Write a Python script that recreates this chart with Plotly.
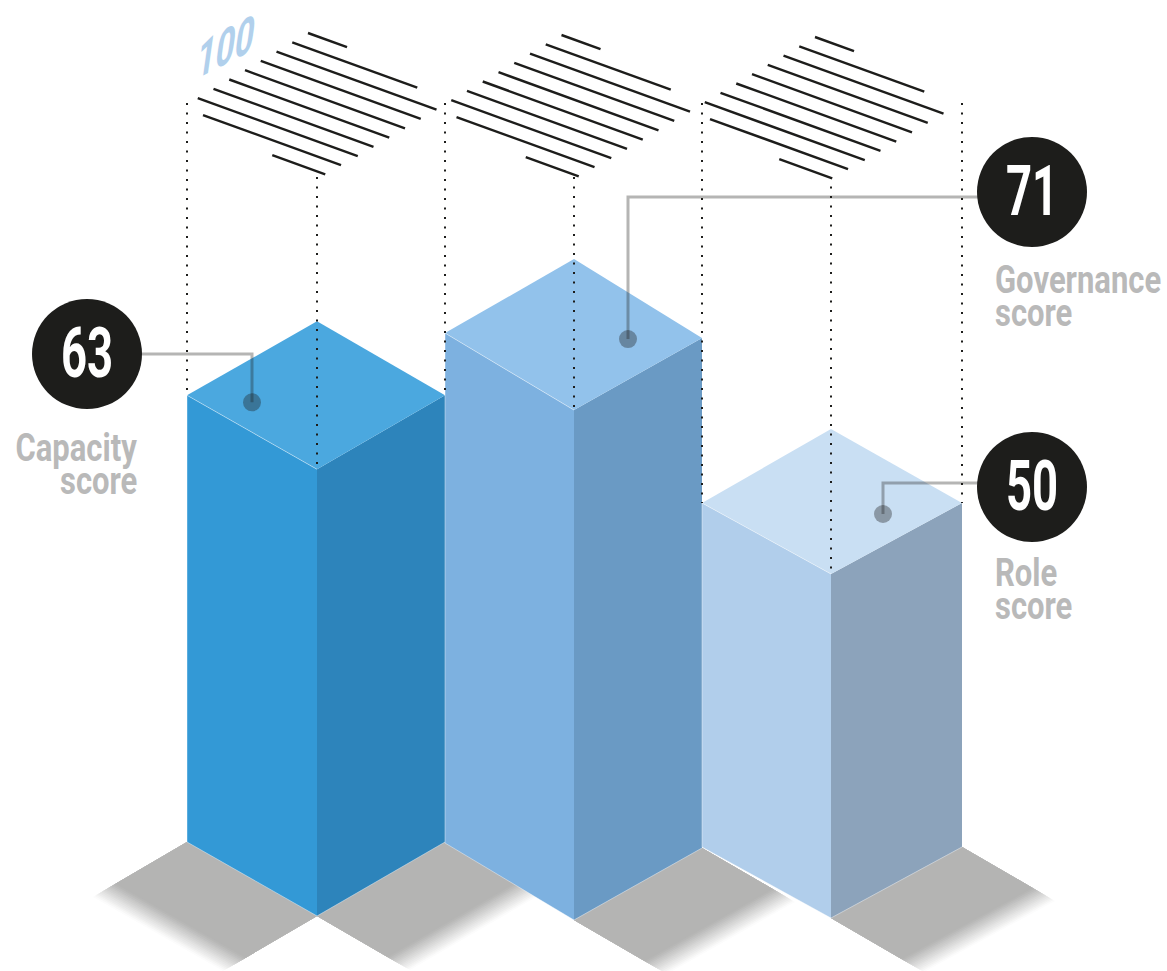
import json
import plotly.graph_objects as go

# ---- data ----
SCORE_NAMES = ["Capacity score", "Governance score", "Role score"]
SCORES = [63, 71, 50]
SCALE_MAX = 100
SCALE_LABEL = "100"

# ---- isometric layout (canvas pixels) ----
W, H = 1167, 971
PX_PER_POINT = 7.9
PX_OFFSET = -51
CENTER_X = [317, 574, 831]
LEFT_X = [187, 445, 702]
RIGHT_X = [445, 702, 962]
BASE_LEFT_Y = [842, 843, 847]
BASE_FRONT_Y = [916, 920, 918]
BASE_RIGHT_Y = [842, 848, 847]
TOP_DEPTH = 74

FACE_LEFT = ["#3399d6", "#7db1e0", "#b1ceeb"]
FACE_RIGHT = ["#2d84bb", "#6a9ac4", "#8ca3bb"]
FACE_TOP = ["#4ba8df", "#92c2eb", "#c9dff3"]
INK = "#1d1d1b"
SHADOW_RGB = (180, 180, 179)
LABEL_GREY = "#b9b9b9"
CALLOUT = "rgba(29,29,27,0.33)"
DOT_COLOR = "rgba(29,29,27,0.36)"
SEAM = "rgba(255,255,255,0.4)"
FONT = "Roboto"

BADGE_X = [87, 1032, 1032]
BADGE_Y = [354, 192, 487]
BADGE_SIZE = 110
ELBOW_Y = [354, 197, 483]
DOT_DX = [65, 183, 181]
DOT_DY = [7, 6, 11]
LABEL_LINES = [["Capacity", "score"], ["Governance", "score"], ["Role", "score"]]
LABEL_X = [138, 994, 994]
LABEL_ANCHOR = ["right", "left", "left"]
LABEL_Y = [[448, 481], [280, 313], [573, 606]]

BADGE_FONT = 70
LABEL_FONT = 39
SCALE_FONT = 44
# horizontal squeeze per font size, giving Roboto a condensed cut
TEXT_SQUEEZE = {BADGE_FONT: 0.65, LABEL_FONT: 0.795, SCALE_FONT: 0.85}
SCALE_SHEAR = -35
BADGE_TEXT_DROP = 6

# Hatched caps above the bars: ten parallel strokes, clipped to a hexagon
HATCH_X0 = 308
HATCH_STEP_X = 253.5
HATCH_STEP_Y = 2
HATCH_DX, HATCH_DY = -15.75, 9.3
HATCH_SLOPE = 0.363
HATCH_SPANS = [(0, 39), (0, 125), (0, 160), (0, 160), (0, 160),
               (0, 160), (0, 160), (0, 160), (21, 159), (106, 159)]
CAP_TOP_OFFSET = 70
LEFT_SHADOW_VEC = (-94, 55)
RIGHT_SHADOW_VEC = (93, 54)
SHADOW_SOLID = 0.76
SHADOW_STEPS = 14
DOTTED = "2px,7.5px"


def height(value):
    return PX_PER_POINT * value + PX_OFFSET


fig = go.Figure()


def polygon(points, color, name=""):
    xs = [p[0] for p in points] + [points[0][0]]
    ys = [p[1] for p in points] + [points[0][1]]
    fig.add_trace(go.Scatter(
        x=xs, y=ys, mode="lines", fill="toself", fillcolor=color,
        line=dict(color=color, width=0),
        hoverinfo="skip", name=name, showlegend=False))


def polyline(xs, ys, color, width, dash=None, name=""):
    fig.add_trace(go.Scatter(
        x=xs, y=ys, mode="lines",
        line=dict(color=color, width=width, dash=dash),
        hoverinfo="skip", name=name, showlegend=False))


def shadow(a, b, vec):
    """Floor shadow swept from edge a-b along vec, fading at its far end."""
    def at(p, t):
        return (p[0] + vec[0] * t, p[1] + vec[1] * t)
    step = (1 - SHADOW_SOLID) / SHADOW_STEPS
    # painted far to near; every band starts at the edge, so later ones hide the seams
    for k in reversed(range(SHADOW_STEPS)):
        t1 = SHADOW_SOLID + step * (k + 1)
        mix = (k + 0.5) / SHADOW_STEPS
        rgb = tuple(round(c + (255 - c) * mix) for c in SHADOW_RGB)
        polygon([a, b, at(b, t1), at(a, t1)], "rgb(%d,%d,%d)" % rgb, "shadow fade")
    polygon([a, b, at(b, SHADOW_SOLID), at(a, SHADOW_SOLID)],
            "rgb(%d,%d,%d)" % SHADOW_RGB, "shadow")


# floor shadows
shadow((LEFT_X[0], BASE_LEFT_Y[0]), (CENTER_X[0], BASE_FRONT_Y[0]), LEFT_SHADOW_VEC)
for i in range(3):
    shadow((CENTER_X[i], BASE_FRONT_Y[i]), (RIGHT_X[i], BASE_RIGHT_Y[i]), RIGHT_SHADOW_VEC)

# isometric columns
tops = []
for i, v in enumerate(SCORES):
    h = height(v)
    lx, cx, rx = LEFT_X[i], CENTER_X[i], RIGHT_X[i]
    bl, bf, br = BASE_LEFT_Y[i], BASE_FRONT_Y[i], BASE_RIGHT_Y[i]
    tl, tf, tr = bl - h, bf - h, br - h
    tops.append((tl, tf, tr))
    polygon([(cx, tf), (rx, tr), (rx, br), (cx, bf)], FACE_RIGHT[i], SCORE_NAMES[i])
    polygon([(lx, tl), (cx, tf), (cx, bf), (lx, bl)], FACE_LEFT[i], SCORE_NAMES[i])
    polygon([(lx, tl), (cx, tl - TOP_DEPTH), (rx, tr), (cx, tf)], FACE_TOP[i], SCORE_NAMES[i])
    polyline([cx, lx, lx, cx, rx], [tf, tl, bl, bf, br], SEAM, 1, None, "seam")

# dotted guides up to the full-score level
h_max = height(SCALE_MAX)
for i in range(3):
    polyline([CENTER_X[i]] * 2,
             [BASE_FRONT_Y[0] - h_max, tops[i][1]], INK, 2, DOTTED, "guide")
side_guides = [(LEFT_X[0], tops[0][0]), (RIGHT_X[0], tops[0][2]),
               (LEFT_X[2], tops[2][0]), (RIGHT_X[2], tops[2][2])]
for gx, gy in side_guides:
    polyline([gx, gx], [BASE_LEFT_Y[0] - h_max, gy], INK, 2, DOTTED, "guide")

# hatched caps at the full-score level
hx, hy = [], []
cap_top = BASE_LEFT_Y[0] - h_max - CAP_TOP_OFFSET
for b in range(3):
    for n, (s0, s1) in enumerate(HATCH_SPANS):
        ox = HATCH_X0 + b * HATCH_STEP_X + n * HATCH_DX
        oy = cap_top + b * HATCH_STEP_Y + n * HATCH_DY
        hx += [ox + s0, ox + s1, None]
        hy += [oy + s0 * HATCH_SLOPE, oy + s1 * HATCH_SLOPE, None]
polyline(hx, hy, INK, 2.4, None, "full score")

# callout leaders, end dots and value badges
for i in range(3):
    dot_x = LEFT_X[i] + DOT_DX[i]
    dot_y = tops[i][0] + DOT_DY[i]
    polyline([BADGE_X[i], dot_x, dot_x], [ELBOW_Y[i], ELBOW_Y[i], dot_y], CALLOUT, 3, None, "leader")
    fig.add_trace(go.Scatter(x=[dot_x], y=[dot_y], mode="markers",
                             marker=dict(size=18, color=DOT_COLOR, line=dict(width=0)),
                             hoverinfo="skip", showlegend=False, name="leader end"))

fig.add_trace(go.Scatter(
    x=BADGE_X, y=BADGE_Y, mode="markers+text",
    marker=dict(size=BADGE_SIZE, color=INK, line=dict(width=0)),
    text=[str(v) for v in SCORES], textposition="middle center",
    textfont=dict(family=FONT, size=BADGE_FONT, color="white", weight="bold"),
    customdata=SCORE_NAMES, hovertemplate="%{customdata}: %{text}<extra></extra>",
    showlegend=False, name="score"))

annotations = []
for i in range(3):
    for line, y in zip(LABEL_LINES[i], LABEL_Y[i]):
        annotations.append(dict(
            x=LABEL_X[i], y=y, xref="x", yref="y", text="<b>%s</b>" % line, showarrow=False,
            xanchor=LABEL_ANCHOR[i], yanchor="middle", align=LABEL_ANCHOR[i],
            borderpad=0,
            font=dict(family=FONT, size=LABEL_FONT, color=LABEL_GREY)))
annotations.append(dict(
    x=226, y=47, xref="x", yref="y", text="<b>%s</b>" % SCALE_LABEL, showarrow=False,
    textangle=-27, xanchor="center", yanchor="middle",
    font=dict(family=FONT, size=SCALE_FONT, color="#b1d0ec")))

fig.update_layout(
    width=W, height=H, margin=dict(l=0, r=0, t=0, b=0),
    paper_bgcolor="white", plot_bgcolor="white", showlegend=False,
    annotations=annotations,
    xaxis=dict(range=[0, W], visible=False, fixedrange=True),
    yaxis=dict(range=[H, 0], visible=False, fixedrange=True),
)

# Narrow every text about its anchor once the plot is drawn
condense = """
var squeeze = %s, shear = %d, scaleFont = %d, badgeFont = %d, drop = %d;
document.getElementById('{plot_id}').querySelectorAll('.annotation-text, .textpoint text').forEach(function (t) {
  var size = Math.round(parseFloat(t.style.fontSize));
  var k = squeeze[size];
  if (!k) return;
  var b = t.getBBox();
  var anchor = t.getAttribute('text-anchor') || t.style.textAnchor;
  var ox = anchor === 'start' ? b.x : anchor === 'end' ? b.x + b.width : b.x + b.width / 2;
  if (t.closest('.textpoint')) ox = b.x + b.width / 2;
  var oy = b.y + b.height / 2;
  var skew = size === scaleFont ? ' skewX(' + shear + ')' : '';
  var shift = size === badgeFont ? ' translate(0,' + drop + ')' : '';
  var prior = t.getAttribute('transform') || '';
  t.setAttribute('transform', prior + shift + ' translate(' + ox + ',' + oy + ')' + skew +
    ' scale(' + k + ',1) translate(' + (-ox) + ',' + (-oy) + ')');
});
""" % (json.dumps(TEXT_SQUEEZE), SCALE_SHEAR, SCALE_FONT, BADGE_FONT, BADGE_TEXT_DROP)

fig.write_html("out.html", config=dict(displayModeBar=False), post_script=condense)
